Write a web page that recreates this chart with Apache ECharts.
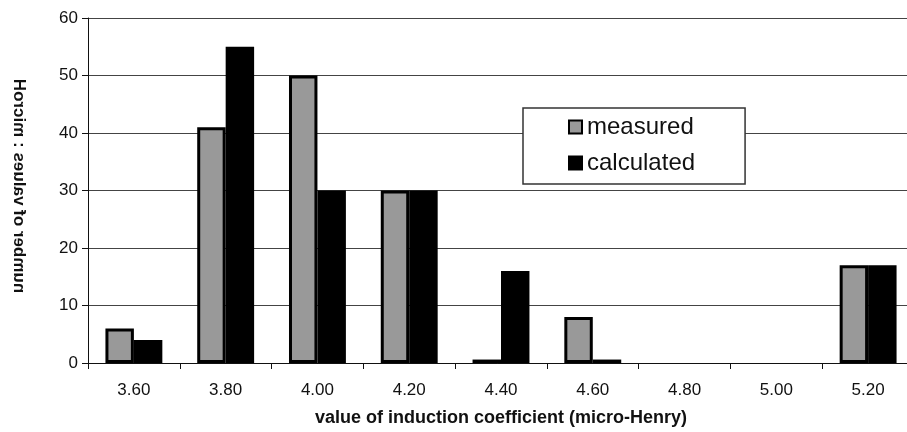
<!DOCTYPE html>
<html>
<head>
<meta charset="utf-8">
<script src="https://cdn.jsdelivr.net/npm/echarts@6/dist/echarts.min.js"></script>
<style>
html,body{margin:0;padding:0;background:#fff;}
#chart{width:907px;height:432px;}
</style>
</head>
<body>
<div id="chart"></div>
<script>
var categories = ['3.60','3.80','4.00','4.20','4.40','4.60','4.80','5.00','5.20'];
var measured   = [6, 41, 50, 30, 0.6, 8, 0, 0, 17];
var calculated = [4, 55, 30, 30, 16, 0.6, 0, 0, 17];
var xTitle = 'value of induction coefficient (micro-Henry)';
var yTitle = 'number of values : microH';

function hideZero(arr) { return arr.map(function (v) { return v === 0 ? '-' : v; }); }

var FONT = '"Liberation Sans", Arial, sans-serif';
var chart = echarts.init(document.getElementById('chart'));
chart.setOption({
  animation: false,
  backgroundColor: '#fff',
  grid: {left: 88, right: -7, top: 18, bottom: 69, outerBoundsMode: 'none', containLabel: false},
  legend: {
    orient: 'vertical',
    left: 523, top: 108,
    padding: [7, 50, 9, 45],
    itemGap: 12,
    itemWidth: 13, itemHeight: 13,
    backgroundColor: '#fff',
    borderColor: '#333', borderWidth: 1.5, borderRadius: 0,
    textStyle: {fontFamily: FONT, fontSize: 24, color: '#111', padding: [0,0,0,0]},
    icon: 'rect',
    data: ['measured','calculated']
  },
  xAxis: {
    type: 'category',
    data: categories,
    name: xTitle,
    nameLocation: 'middle',
    nameGap: 46,
    nameTextStyle: {fontFamily: FONT, fontSize: 18, fontWeight: 'bold', color: '#111'},
    axisLine: {lineStyle: {color: '#111', width: 1}},
    axisTick: {show: true, length: 6, lineStyle: {color: '#111'}},
    axisLabel: {fontFamily: FONT, fontSize: 17, color: '#111', margin: 19}
  },
  yAxis: {
    type: 'value',
    min: 0, max: 60, interval: 10,
    axisLine: {show: true, lineStyle: {color: '#111', width: 1}},
    axisTick: {show: true, length: 6, lineStyle: {color: '#111'}},
    axisLabel: {fontFamily: FONT, fontSize: 17, color: '#111', margin: 10},
    splitLine: {show: true, lineStyle: {color: '#444', width: 1}}
  },
  graphic: [{
    type: 'text',
    x: 19, y: 186,
    rotation: Math.PI / 2,
    scaleY: -1,
    style: {
      text: yTitle,
      font: 'bold 17px ' + FONT,
      fill: '#111',
      align: 'center',
      verticalAlign: 'middle'
    }
  }],
  series: [
    {
      name: 'measured', type: 'bar', data: hideZero(measured),
      barGap: '0%', barCategoryGap: '38%',
      itemStyle: {color: '#999999', borderColor: '#000', borderWidth: 3}
    },
    {
      name: 'calculated', type: 'bar', data: hideZero(calculated),
      itemStyle: {color: '#000', borderColor: '#000', borderWidth: 3}
    }
  ]
});
</script>
</body>
</html>
